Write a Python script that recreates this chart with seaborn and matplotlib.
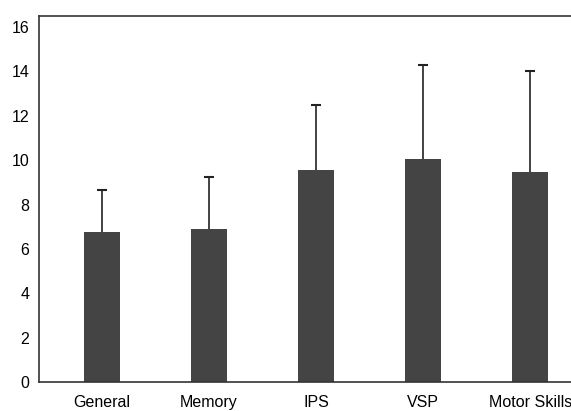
import numpy as np
import pandas as pd
import matplotlib
matplotlib.use('Agg')
import matplotlib.pyplot as plt
import seaborn as sns

categories = ['General', 'Memory', 'IPS', 'VSP', 'Motor Skills']
means = [6.75, 6.9, 9.55, 10.05, 9.45]
upper = [8.65, 9.25, 12.5, 14.3, 14.0]

sns.set_style('white')
plt.rcParams['font.family'] = ['Liberation Sans', 'DejaVu Sans']

df = pd.DataFrame({'domain': categories, 'score': means})
err = np.array(upper) - np.array(means)

fig = plt.figure(figsize=(5.71, 4.11), dpi=100)
ax = fig.add_axes([39 / 571, 1 - 382 / 411, (593 - 39) / 571, (382 - 16) / 411])

eb = ax.errorbar(categories, means, yerr=[np.zeros(len(err)), err], fmt='none',
                 ecolor='#222222', elinewidth=1.2, capsize=3.5, capthick=1.5, zorder=1)
# only the upper whisker has a cap
eb[1][0].set_visible(False)
sns.barplot(data=df, x='domain', y='score', color='#444444', width=0.34,
            saturation=1, errorbar=None, ax=ax, zorder=2, linewidth=0)

ax.set_ylim(0, 16.5)
ax.set_xlim(-0.586, 4.586)
ax.set_yticks(range(0, 17, 2))
ax.set_xlabel('')
ax.set_ylabel('')
ax.tick_params(axis='both', length=0, labelsize=11.5, colors='black')
ax.tick_params(axis='x', pad=9)
ax.tick_params(axis='y', pad=7)
for side in ['left', 'top', 'bottom']:
    ax.spines[side].set_color('#333333')
    ax.spines[side].set_linewidth(1.2)
ax.spines['right'].set_visible(False)

fig.savefig('out.png', dpi=100)
